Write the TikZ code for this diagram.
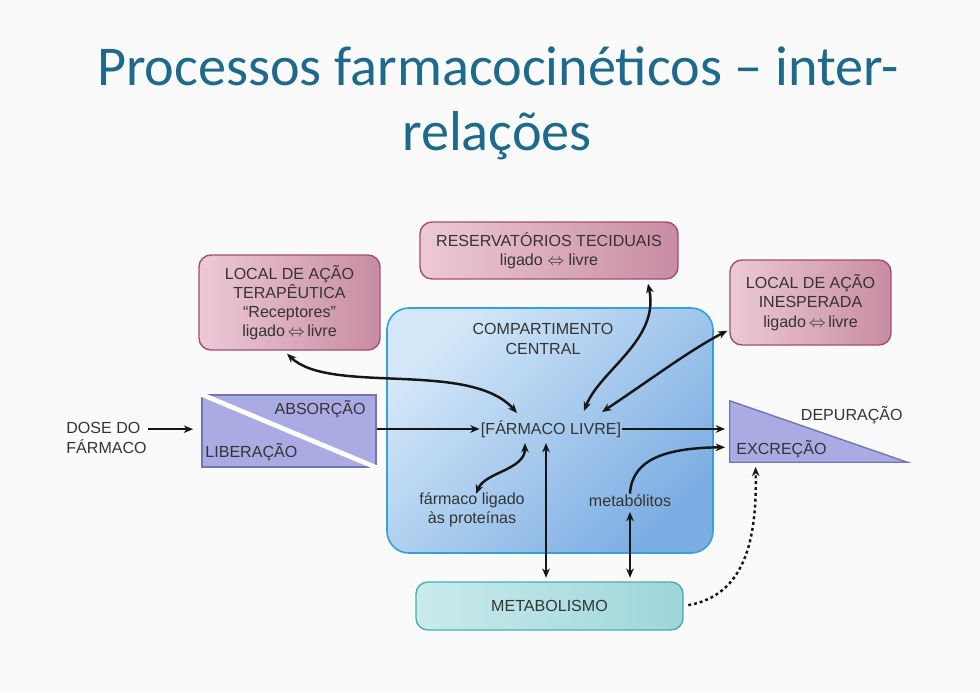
\documentclass[tikz,border=0pt]{standalone}
\usepackage{fontspec}
\setmainfont{Liberation Sans}
\newfontfamily\titelfont{Carlito}
\usetikzlibrary{calc,arrows.meta}

\definecolor{hintergrund}{HTML}{FAFAFA}
\definecolor{titelblau}{HTML}{1D6A8C}
\definecolor{textgrau}{HTML}{343434}
\definecolor{pfeilfarbe}{HTML}{161616}
\definecolor{rosahell}{HTML}{EDC9D6}
\definecolor{rosadunkel}{HTML}{C88CA3}
\definecolor{rosarand}{HTML}{A54F6E}
\definecolor{blauhell}{HTML}{D3E7F8}
\definecolor{blaudunkel}{HTML}{7DAEE3}
\definecolor{blaurand}{HTML}{35A2D6}
\definecolor{lila}{HTML}{ABABE4}
\definecolor{lilarand}{HTML}{7373B8}
\definecolor{tuerkishell}{HTML}{C9EBEC}
\definecolor{tuerkisdunkel}{HTML}{9ED6DA}
\definecolor{tuerkisrand}{HTML}{48AEB3}

\begin{document}
\begin{tikzpicture}[>={Stealth[length=8pt,width=6.5pt]}, x=0.03cm, y=0.03cm,
  txt/.style={font=\fontsize{13.7}{16.4}\selectfont, text=textgrau, align=center, inner sep=1pt},
  titel/.style={font=\titelfont\fontsize{48}{55}\selectfont, text=titelblau, inner sep=0pt},
  rosabox/.style={txt, draw=rosarand, line width=1.2pt, rounded corners=0.36cm,
    left color=rosahell, right color=rosadunkel},
  pfeil/.style={line width=2.1pt, draw=pfeilfarbe}]

\useasboundingbox (0,0) rectangle (980,-692);
\fill[hintergrund] (0,0) rectangle (980,-692);

% Titel
\node[titel, anchor=base] (titel1) at (498,-85) {Processos farmacocinéticos – inter-};
\node[titel, anchor=base] (titel2) at (497,-150) {relações};

% Zentrales Kompartiment
\node[draw=blaurand, line width=1.4pt, rounded corners=0.66cm, shading=axis,
  top color=blauhell, bottom color=blaudunkel, shading angle=45,
  minimum width=9.78cm, minimum height=7.35cm] (komp) at (550,-430.5) {};
\node[txt] (komptext) at (543,-339) {COMPARTIMENTO\\CENTRAL};

% rosa Kaesten oben
\node[rosabox, minimum width=5.43cm, minimum height=2.85cm] (terap) at (289.5,-302.5)
  {LOCAL DE AÇÃO\\TERAPÊUTICA\\“Receptores”\\ligado\,$\Leftrightarrow$\,livre};
\node[rosabox, minimum width=7.74cm, minimum height=1.71cm] (reserv) at (549,-250.5)
  {RESERVATÓRIOS TECIDUAIS\\ligado $\Leftrightarrow$ livre};
\node[rosabox, minimum width=4.83cm, minimum height=2.55cm] (inesp) at (810.5,-302.5)
  {LOCAL DE AÇÃO\\INESPERADA\\ligado\,$\Leftrightarrow$\,livre};

% Liberacao / Absorcao
\node[draw=lilarand, fill=lila, line width=1.2pt, minimum width=5.22cm, minimum height=2.16cm] (lib) at (289,-431) {};
\draw[white, line width=4pt] (lib.north west) -- (lib.south east);
\node[txt, anchor=east] (absorcao) at (367,-409) {ABSORÇÃO};
\node[txt, anchor=west] (liberacao) at (204,-452) {LIBERAÇÃO};

% Depuracao (Dreieck)
\node[minimum width=5.31cm, minimum height=1.83cm, inner sep=0pt] (tri) at (818.5,-431.5) {};
\draw[lilarand, fill=lila, line width=1.2pt] (tri.north west) -- (tri.south west) -- (tri.south east) -- cycle;
\node[txt, anchor=east] (depuracao) at (904,-415) {DEPURAÇÃO};
\node[txt, anchor=west] (excrecao) at (735,-449) {EXCREÇÃO};

% Metabolismo
\node[txt, draw=tuerkisrand, line width=1.2pt, rounded corners=0.36cm,
  left color=tuerkishell, right color=tuerkisdunkel,
  minimum width=8.01cm, minimum height=1.44cm] (metabolismo) at (549.5,-606) {METABOLISMO};

% Texte
\node[txt, align=left, anchor=west] (dose) at (65,-438) {DOSE DO\\FÁRMACO};
\node[txt] (livre) at (551,-429) {[FÁRMACO LIVRE]};
\node[txt] (ligado) at (472,-510) {fármaco ligado\\às proteínas};
\node[txt] (metabolitos) at (630,-501) {metabólitos};
\coordinate (livreunten) at ($(livre.center)+(-5,-14)$);

% gerade Pfeile
\draw[pfeil, ->, shorten >=7pt] (dose.12) -- (dose.12 -| lib.west);
\draw[pfeil, ->] (livre -| lib.east) -- (livre.west);
\draw[pfeil, ->, shorten >=4pt] (livre.east) -- (livre -| tri.west);
\draw[pfeil, <->, shorten >=3pt] (livreunten) -- (livreunten |- metabolismo.north);
\draw[pfeil, <->, shorten <=3pt, shorten >=3pt] (metabolitos.south) -- (metabolitos.south |- metabolismo.north);

% gebogene Pfeile
\draw[pfeil, ->, shorten >=4pt] (metabolitos.north) .. controls (632,-458) and (668,-448) .. (tri.190);
\draw[pfeil, <->] ($(terap.south)+(-2.5,-3)$) .. controls (330,-395) and (470,-360) .. ($(livre.center)+(-34,16)$);
\draw[pfeil, <->] ($(reserv.south)+(99,-4)$) .. controls (660,-340) and (600,-370) .. ($(livre.center)+(33,18)$);
\draw[pfeil, <->] ($(livre.center)+(51,17)$) .. controls (650,-380) and (690,-350) .. ($(inesp.south west)+(-2,15)$);
\draw[pfeil, <->] ($(ligado.center)+(4,16)$) .. controls (485,-472) and (525,-470) .. ($(livre.center)+(-26,-14)$);

% gepunktet zur Exkretion
\draw[pfeil, ->, dash pattern=on 2.5pt off 2.5pt, shorten <=4pt, shorten >=4pt]
  (metabolismo.east) .. controls (745,-595) and (757,-540) .. (tri.206);

\end{tikzpicture}
\end{document}
